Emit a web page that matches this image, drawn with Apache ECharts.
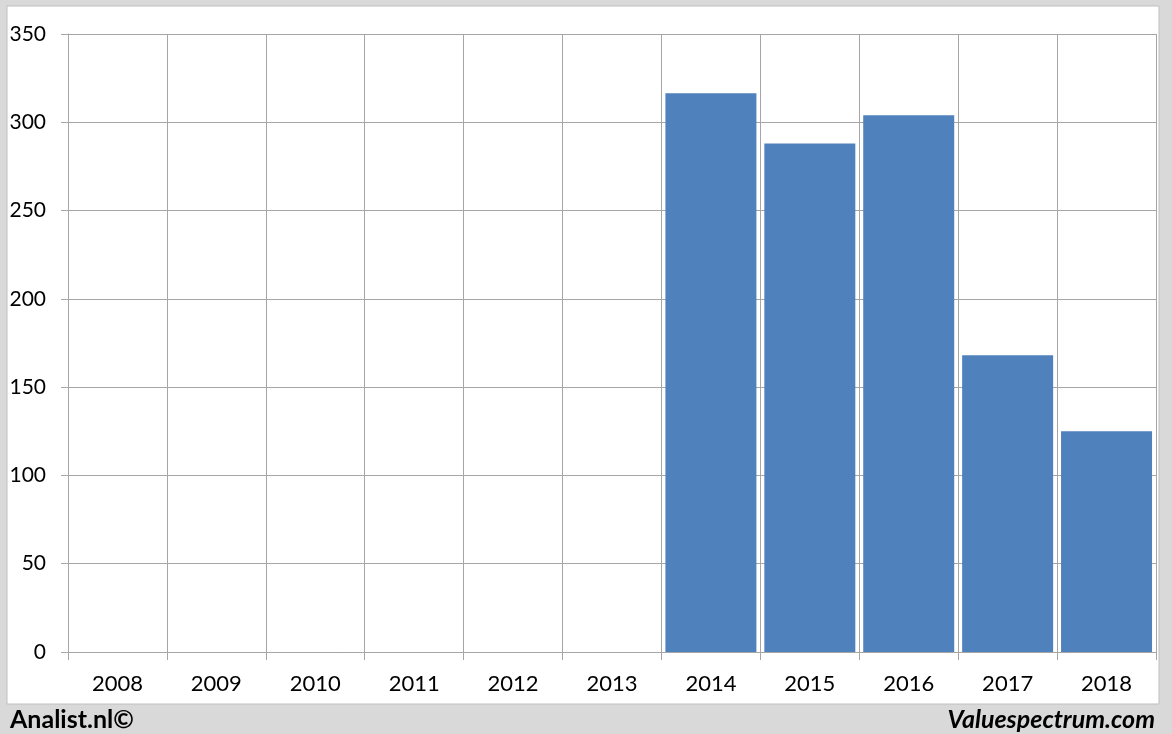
<!DOCTYPE html>
<html>
<head>
<meta charset="utf-8">
<script src="https://cdn.jsdelivr.net/npm/echarts@6/dist/echarts.min.js"></script>
<style>
html, body { margin: 0; padding: 0; background: #d9d9d9; }
#chart { width: 1172px; height: 734px; }
</style>
</head>
<body>
<div id="chart"></div>
<script>
// data
var years = ['2008', '2009', '2010', '2011', '2012', '2013', '2014', '2015', '2016', '2017', '2018'];
var values = [null, null, null, null, null, null, 316.5, 288, 304, 168, 125];
var yTicks = { min: 0, max: 350, interval: 50 };

var font = 'Lato, Carlito, "Open Sans", sans-serif';
var gridColor = '#a6a6a6';

var option = {
    backgroundColor: '#d9d9d9',
    animation: false,
    graphic: [{
        type: 'rect',
        z: -10,
        shape: { x: 7, y: 6, width: 1152, height: 698 },
        style: { fill: '#ffffff', stroke: '#bfbfbf', lineWidth: 1 }
    }],
    title: [{
        text: 'Analist.nl©',
        left: 5,
        top: 702,
        textStyle: { fontFamily: font, fontSize: 25, fontWeight: 'bold', color: '#000' }
    }, {
        text: 'Valuespectrum.com',
        right: 12,
        top: 702,
        textStyle: { fontFamily: font, fontSize: 25, fontWeight: 'bold', fontStyle: 'italic', color: '#000' }
    }],
    grid: {
        left: 68,
        right: 16,
        top: 34,
        bottom: 82
    },
    xAxis: {
        type: 'category',
        data: years,
        boundaryGap: true,
        axisLine: { show: true, lineStyle: { color: gridColor } },
        axisTick: { show: true, length: 8, lineStyle: { color: gridColor } },
        splitLine: { show: true, lineStyle: { color: gridColor } },
        axisLabel: { color: '#000', fontSize: 22, fontFamily: font, margin: 21 }
    },
    yAxis: {
        type: 'value',
        min: yTicks.min,
        max: yTicks.max,
        interval: yTicks.interval,
        axisLine: { show: true, lineStyle: { color: gridColor } },
        axisTick: { show: true, length: 7, lineStyle: { color: gridColor } },
        splitLine: { show: true, lineStyle: { color: gridColor } },
        axisLabel: { color: '#000', fontSize: 21, fontFamily: font, margin: 22 }
    },
    series: [{
        type: 'bar',
        data: values,
        barCategoryGap: '8%',
        itemStyle: { color: '#4f81bd' }
    }]
};

var chart = echarts.init(document.getElementById('chart'));
chart.setOption(option);
</script>
</body>
</html>
